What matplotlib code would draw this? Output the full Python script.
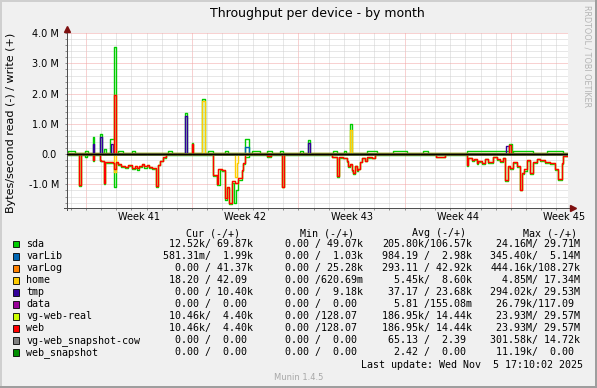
import numpy as np
import matplotlib
matplotlib.use("Agg")
from matplotlib import pyplot as plt
from matplotlib.patches import Rectangle
import matplotlib.transforms as mtransforms

W, H = 597, 388

# x axis: days since start of the graph (33 days shown)
span_days = 33.0
week_start = [1.24, 8.24, 15.24, 22.24, 29.24]
week_labels = ["Week 41", "Week 42", "Week 43", "Week 44", "Week 45"]

ytick_vals = [-1.0, 0.0, 1.0, 2.0, 3.0, 4.0]
ytick_labels = ["-1.0 M", "0.0", "1.0 M", "2.0 M", "3.0 M", "4.0 M"]

# ---- data: step breakpoints (day) and values in MB/s ----
# read values are drawn below zero, write values above
web_read_t = [0.00, 0.79, 0.92, 1.69, 1.80, 2.17, 2.24, 2.42, 2.52, 3.05, 3.12, 3.22, 3.38, 3.54, 3.82,
              4.05, 4.26, 4.45, 4.59, 4.75, 4.92, 5.10, 5.25, 5.40, 5.60, 5.86, 5.97, 6.13, 6.32, 6.52,
              9.64, 9.86, 9.97, 10.19, 10.44, 10.57, 10.70, 10.90, 11.07, 11.28, 11.51, 11.61, 11.73,
              13.20, 13.45, 14.14, 14.30,
              17.43, 17.77, 17.92, 18.20, 18.43, 18.53, 18.64, 18.76, 18.86, 18.97, 19.08, 19.19, 19.30,
              19.41, 19.63, 19.76, 20.07, 20.29,
              24.30, 24.90,
              26.33, 26.44, 26.66, 26.83, 26.99, 27.10, 27.32, 27.54, 27.75, 28.08, 28.30, 28.52, 28.74,
              28.85, 29.03, 29.18, 29.40, 29.63, 29.84, 29.99, 30.12, 30.28, 30.50, 30.68, 30.94, 31.16,
              31.49, 31.82, 32.15, 32.36, 32.59, 32.69]
web_read_v = [0.01, 1.02, 0.01, 0.20, 0.01, 0.20, 0.22, 0.95, 0.27, 0.28, 0.50, 0.25, 0.33, 0.38, 0.42,
              0.36, 0.45, 0.40, 0.47, 0.38, 0.33, 0.40, 0.36, 0.42, 0.45, 1.06, 0.35, 0.22, 0.10, 0.01,
              0.69, 0.97, 0.50, 0.52, 1.45, 1.10, 1.62, 0.90, 0.95, 0.80, 0.53, 0.30, 0.01,
              0.07, 0.01, 1.08, 0.01,
              0.09, 0.72, 0.10, 0.12, 0.23, 0.38, 0.33, 0.53, 0.62, 0.38, 0.53, 0.48, 0.25,
              0.12, 0.22, 0.10, 0.12, 0.01,
              0.08, 0.01,
              0.36, 0.12, 0.20, 0.17, 0.30, 0.22, 0.30, 0.15, 0.25, 0.08, 0.15, 0.22, 0.12,
              0.86, 0.40, 0.45, 0.25, 0.40, 1.17, 0.62, 0.50, 0.20, 0.63, 0.27, 0.15, 0.20,
              0.25, 0.30, 0.50, 0.83, 0.30, 0.05]

sda_read_t = [0.00, 0.79, 0.92, 1.19, 1.30, 1.69, 1.80, 2.17, 2.24, 2.42, 2.52, 3.05, 3.12, 3.22, 3.38,
              3.54, 3.82, 4.05, 4.26, 4.45, 4.59, 4.75, 4.92, 5.10, 5.25, 5.40, 5.60, 5.86, 5.97, 6.13,
              6.32, 6.52,
              9.64, 9.86, 10.08, 10.19, 10.44, 10.57, 10.70, 10.90, 11.00, 11.10, 11.28, 11.51, 11.61,
              11.73, 12.00,
              13.20, 13.45, 14.14, 14.30,
              17.43, 17.77, 17.92, 18.20, 18.43, 18.53, 18.64, 18.76, 18.86, 18.97, 19.08, 19.19, 19.30,
              19.41, 19.63, 19.76, 20.07, 20.29,
              24.30, 24.90,
              26.33, 26.44, 26.66, 26.83, 26.99, 27.10, 27.32, 27.54, 27.75, 28.08, 28.30, 28.52, 28.74,
              28.85, 29.03, 29.18, 29.40, 29.63, 29.84, 29.99, 30.12, 30.28, 30.50, 30.68, 30.94, 31.16,
              31.49, 31.82, 32.15, 32.36, 32.59, 32.69]
sda_read_v = [0.035, 1.04, 0.035, 0.09, 0.035, 0.21, 0.035, 0.21, 0.23, 0.97, 0.29, 0.30, 1.08, 0.28, 0.36,
              0.44, 0.45, 0.40, 0.50, 0.46, 0.53, 0.42, 0.36, 0.45, 0.40, 0.45, 0.48, 1.08, 0.37, 0.24,
              0.12, 0.035,
              0.71, 1.02, 0.52, 0.55, 1.50, 1.12, 1.65, 0.95, 1.62, 1.20, 0.85, 0.55, 0.32,
              0.08, 0.035,
              0.10, 0.035, 1.10, 0.035,
              0.10, 0.76, 0.12, 0.14, 0.26, 0.42, 0.36, 0.56, 0.67, 0.40, 0.55, 0.50, 0.27,
              0.14, 0.24, 0.12, 0.13, 0.035,
              0.09, 0.035,
              0.38, 0.14, 0.22, 0.20, 0.33, 0.25, 0.33, 0.17, 0.28, 0.10, 0.18, 0.25, 0.14,
              0.89, 0.43, 0.49, 0.28, 0.44, 1.19, 0.65, 0.56, 0.23, 0.66, 0.30, 0.17, 0.23,
              0.28, 0.33, 0.53, 0.86, 0.33, 0.06]

sda_write_t = [0.00, 0.07, 0.53, 1.19, 1.38, 1.69, 1.80, 2.17, 2.28, 2.45, 2.55, 2.83, 3.12, 3.23, 3.36,
               3.69, 4.28, 4.48, 6.65, 6.92, 7.79, 7.90, 8.21, 8.32, 8.91, 9.09, 9.29, 9.62, 10.41, 10.61,
               11.73, 11.99, 12.19, 12.71, 13.18, 13.50, 14.03, 14.23, 15.35, 15.55, 15.86, 16.01, 17.50,
               17.80, 18.27, 18.38, 18.64, 18.76, 19.76, 20.42, 21.50, 22.40, 23.45, 23.78, 26.35, 29.12,
               29.31, 29.38, 30.70, 31.62, 32.67]
sda_write_v = [0.03, 0.10, 0.03, 0.10, 0.03, 0.58, 0.03, 0.67, 0.03, 0.16, 0.03, 0.50, 3.55, 0.03, 0.12,
               0.03, 0.10, 0.03, 0.10, 0.03, 1.35, 0.03, 0.36, 0.03, 1.81, 0.03, 0.10, 0.03, 0.10, 0.03,
               0.50, 0.03, 0.10, 0.03, 0.10, 0.03, 0.10, 0.03, 0.10, 0.03, 0.47, 0.03, 0.10,
               0.03, 0.12, 0.03, 1.00, 0.03, 0.10, 0.03, 0.10, 0.03, 0.10, 0.03, 0.10, 0.34,
               0.03, 0.10, 0.03, 0.10, 0.03]

varlib_write_t = [0.00, 11.73, 11.99]
varlib_write_v = [0.00, 0.25, 0.00]

varlog_write_t = [0.00]
varlog_write_v = [0.05]

home_read_t = [0.00, 3.12, 3.22, 11.07, 11.18, 11.28]
home_read_v = [0.00, 0.60, 0.00, 0.75, 0.30, 0.00]
home_write_t = [0.00, 8.91, 9.09, 18.64, 18.76]
home_write_v = [0.00, 1.75, 0.00, 0.80, 0.00]

tmp_write_t = [0.00, 1.69, 1.80, 2.17, 2.28, 2.90, 3.03, 7.79, 7.90, 15.86, 16.01, 28.90, 29.12]
tmp_write_v = [0.00, 0.34, 0.00, 0.56, 0.00, 0.34, 0.00, 1.26, 0.00, 0.36, 0.00, 0.27, 0.00]

web_write_t = [0.00, 3.12, 3.23, 8.21, 8.32, 29.12, 29.25]
web_write_v = [0.01, 1.96, 0.01, 0.33, 0.01, 0.31, 0.01]

zero_t = [0.00]
zero_v = [0.00]

# legend table
names = ["sda", "varLib", "varLog", "home", "tmp", "data", "vg-web-real", "web",
         "vg-web_snapshot-cow", "web_snapshot"]
colors = ["#00CC00", "#0066B3", "#FF8000", "#FFCC00", "#330099", "#990099", "#CCFF00", "#FF0000",
          "#808080", "#008F00"]
cur_read = ["12.52k", "581.31m", "0.00", "18.20", "0.00", "0.00", "10.46k", "10.46k", "0.00", "0.00"]
cur_write = ["69.87k", "1.99k", "41.37k", "42.09", "10.40k", "0.00", "4.40k", "4.40k", "0.00", "0.00"]
min_read = ["0.00", "0.00", "0.00", "0.00", "0.00", "0.00", "0.00", "0.00", "0.00", "0.00"]
min_write = ["49.07k", "1.03k", "25.28k", "620.69m", "9.18k", "0.00", "128.07", "128.07", "0.00", "0.00"]
avg_read = ["205.80k", "984.19", "293.11", "5.45k", "37.17", "5.81", "186.95k", "186.95k", "65.13", "2.42"]
avg_write = ["106.57k", "2.98k", "42.92k", "8.60k", "23.68k", "155.08m", "14.44k", "14.44k", "2.39", "0.00"]
max_read = ["24.16M", "345.40k", "444.16k", "4.85M", "294.02k", "26.79k", "23.93M", "23.93M", "301.58k", "11.19k"]
max_write = ["29.71M", "5.14M", "108.27k", "17.34M", "29.53M", "117.09", "29.57M", "29.57M", "14.72k", "0.00"]

# read/write series per legend entry, in drawing order
series = [
    ((sda_read_t, sda_read_v), (sda_write_t, sda_write_v)),
    ((zero_t, zero_v), (varlib_write_t, varlib_write_v)),
    ((zero_t, zero_v), (varlog_write_t, varlog_write_v)),
    ((home_read_t, home_read_v), (home_write_t, home_write_v)),
    ((zero_t, zero_v), (tmp_write_t, tmp_write_v)),
    ((zero_t, zero_v), (zero_t, zero_v)),
    ((web_read_t, web_read_v), (web_write_t, web_write_v)),
    ((web_read_t, web_read_v), (web_write_t, web_write_v)),
    ((zero_t, zero_v), (zero_t, zero_v)),
    ((zero_t, zero_v), (zero_t, zero_v)),
]


def fx(px):
    return px / W


def fy(py):
    return 1 - py / H


def stairs(t, v):
    t = np.append(np.asarray(t, float), span_days)
    v = np.append(np.asarray(v, float), v[-1])
    return t, v


fig = plt.figure(figsize=(W / 100, H / 100), dpi=100, facecolor="#F0F0F0")
ax = fig.add_axes([fx(67), fy(208.3), fx(568) - fx(67), fy(33.2) - fy(208.3)])
ax.set_facecolor("white")
ax.set_xlim(0, span_days)
ax.set_ylim(-1.79, 4.0)

# grid: minor every day / 0.2 M, major every week / 1 M
dots = (0, (1, 1))
for d in np.arange(0.24, span_days, 1.0):
    if min(abs(d - w) for w in week_start) > 0.01:
        ax.axvline(d, color="#d0d0d0", lw=0.72, ls=dots, zorder=1)
for w in week_start:
    ax.axvline(w, color="#f2a4a4", lw=0.72, ls=dots, zorder=1)
for yv in np.arange(-1.6, 4.01, 0.2):
    if abs(yv - round(yv)) > 0.01:
        ax.axhline(yv, color="#d0d0d0", lw=0.72, ls=dots, zorder=1)
for yv in ytick_vals:
    ax.axhline(yv, color="#f2a4a4", lw=0.72, ls=dots, zorder=1)

for (rd, wr), col in zip(series, colors):
    t, v = stairs(*rd)
    ax.step(t, -v, where="post", color=col, lw=1.0, zorder=2)
    t, v = stairs(*wr)
    ax.step(t, v, where="post", color=col, lw=1.0, zorder=2)
ax.axhline(0, color="black", lw=0.9, zorder=3)

# axes
for s in ["top", "right"]:
    ax.spines[s].set_visible(False)
for s in ["left", "bottom"]:
    ax.spines[s].set_color("#505050")
    ax.spines[s].set_linewidth(0.72)
ax.plot([0, 0], [-0.012, 1.02], transform=ax.transAxes, color="#505050", lw=0.72, clip_on=False)
ax.plot([-0.006, 1.008], [0, 0], transform=ax.transAxes, color="#505050", lw=0.72, clip_on=False)
ax.plot([0], [1.026], marker="^", ms=4, color="#7f1010", transform=ax.transAxes, clip_on=False)
ax.plot([1.009], [0], marker=">", ms=4, color="#7f1010", transform=ax.transAxes, clip_on=False)

ax.set_yticks(ytick_vals, ytick_labels)
ax.set_yticks(np.arange(-1.6, 4.01, 0.2), minor=True)
week_mid = [w + 3.5 for w in week_start]
ax.set_xticks(week_mid, week_labels)
ax.set_xticks(np.arange(0.24, span_days, 1.0), minor=True)
ax.tick_params(axis="y", which="both", length=1.5, width=0.72, color="#909090", pad=4,
               labelsize=7)
ax.tick_params(axis="x", which="minor", length=1.5, width=0.72, color="#909090")
ax.tick_params(axis="x", which="major", length=0, pad=2.5, labelsize=7)

# "0.0" has no unit, rrdtool leaves a blank where the unit would be
shift = mtransforms.ScaledTranslation(-3 / 100, 0, fig.dpi_scale_trans)
for lbl in ax.get_yticklabels():
    if lbl.get_text() == "0.0":
        lbl.set_transform(lbl.get_transform() + shift)

# texts
fig.text(fx(317), fy(14), "Throughput per device - by month", ha="center", va="center", fontsize=9)
fig.text(fx(11), fy(122.5), "Bytes/second read (-) / write (+)", rotation=90, ha="center",
         va="center", fontsize=8)
fig.text(fx(587), fy(56), "RRDTOOL / TOBI OETIKER", rotation=270, ha="center", va="center",
         fontsize=5.8, color="#b4b4b4")

mono = "DejaVu Sans Mono"
lfs = 7.2


def fmt(s):
    if s[-1].isalpha():
        return s[:-1].rjust(6) + s[-1]
    return s.rjust(6) + " "


for hx, h in zip([186.5, 300, 411.5, 523], ["Cur (-/+)", "Min (-/+)", "Avg (-/+)", "Max (-/+)"]):
    fig.text(fx(hx), fy(233), h, family=mono, fontsize=lfs, va="center", ha="left")

for i, name in enumerate(names):
    yy = 244.3 + 12 * i
    fig.add_artist(Rectangle((fx(12.5), fy(yy + 3.2)), 6.5 / W, 6.5 / H, transform=fig.transFigure,
                             facecolor=colors[i], edgecolor="black", lw=0.6))
    fig.text(fx(26.3), fy(yy), name, family=mono, fontsize=lfs, va="center", ha="left")
    cols = [(163, cur_read, cur_write), (273, min_read, min_write),
            (382, avg_read, avg_write), (490.5, max_read, max_write)]
    for bx, rd, wr in cols:
        fig.text(fx(bx), fy(yy), fmt(rd[i]) + "/" + fmt(wr[i]), family=mono, fontsize=lfs,
                 va="center", ha="left")

fig.text(fx(583), fy(364.5), "Last update: Wed Nov  5 17:10:02 2025", family=mono, fontsize=lfs,
         va="center", ha="right")
fig.text(fx(298.5), fy(377), "Munin 1.4.5", fontsize=6, color="#a8a8a8", ha="center", va="center")

# frame shading
fig.add_artist(Rectangle((0, 0), fx(2), 1, transform=fig.transFigure, color="#CFCFCF", lw=0))
fig.add_artist(Rectangle((0, fy(2)), 1, 2 / H, transform=fig.transFigure, color="#CFCFCF", lw=0))
fig.add_artist(Rectangle((fx(595), 0), 2 / W, 1, transform=fig.transFigure, color="#9E9E9E", lw=0))
fig.add_artist(Rectangle((0, 0), 1, 2 / H, transform=fig.transFigure, color="#9E9E9E", lw=0))

fig.savefig("out.png", dpi=100, facecolor=fig.get_facecolor())
